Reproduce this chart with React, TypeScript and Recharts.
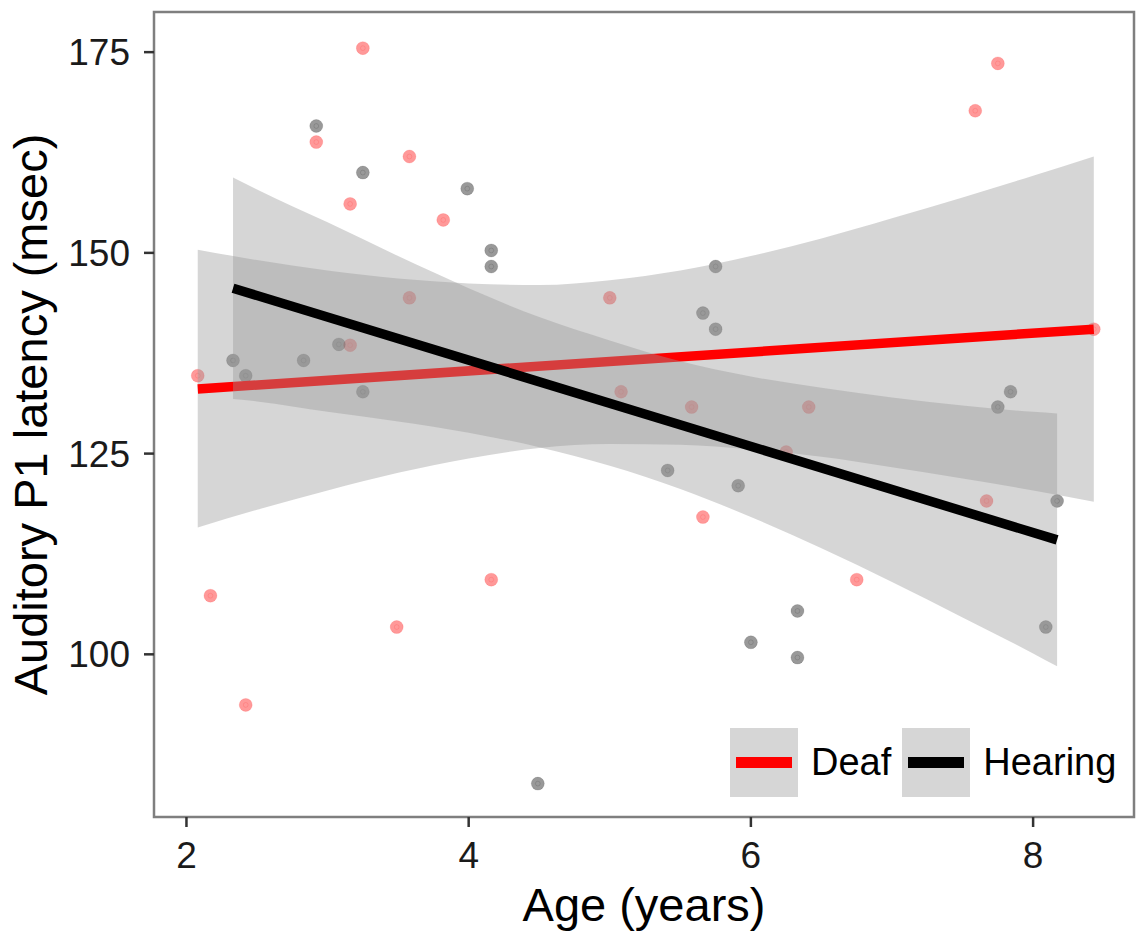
import {
  ComposedChart,
  Scatter,
  Line,
  Area,
  XAxis,
  YAxis,
  ReferenceArea,
  Label,
} from "recharts";

// Raw points
const deafAge = [2.08, 2.17, 2.42, 2.92, 3.16, 3.16, 3.25, 3.49, 3.58, 3.58, 3.82, 4.16, 5.0, 5.08, 5.58, 5.66, 6.25, 6.41, 6.75, 7.59, 7.67, 7.75, 8.43];
const deafLatency = [134.7, 107.3, 93.7, 163.8, 156.1, 138.5, 175.5, 103.4, 162.0, 144.4, 154.1, 109.3, 144.4, 132.7, 130.8, 117.1, 125.2, 130.8, 109.3, 167.7, 119.1, 173.6, 140.5];

const hearingAge = [2.33, 2.42, 2.83, 2.92, 3.08, 3.25, 3.25, 3.99, 4.16, 4.16, 4.49, 5.41, 5.66, 5.75, 5.75, 5.91, 6.0, 6.33, 6.33, 7.75, 7.84, 8.09, 8.17];
const hearingLatency = [136.6, 134.7, 136.6, 165.8, 138.6, 160.0, 132.7, 158.0, 150.3, 148.3, 83.9, 122.9, 142.5, 148.3, 140.5, 121.0, 101.5, 105.4, 99.6, 130.8, 132.7, 103.4, 119.1];

// Fitted lines (end points)
const deafFitAge = [2.08, 8.43];
const deafFitLatency = [133.05, 140.5];
const hearingFitAge = [2.33, 8.17];
const hearingFitLatency = [145.6, 114.25];

// Confidence ribbons
const deafBandAge = [2.08, 2.5, 3.0, 3.5, 4.0, 4.5, 5.0, 5.5, 6.0, 6.5, 7.0, 7.5, 8.0, 8.43];
const deafBandLow = [115.8, 118.0, 120.4, 122.6, 124.4, 125.7, 126.2, 126.1, 125.5, 124.6, 123.3, 121.9, 120.4, 119.0];
const deafBandHigh = [150.4, 149.1, 147.8, 146.8, 146.2, 146.0, 146.6, 147.8, 149.6, 151.8, 154.3, 156.9, 159.6, 162.0];

const hearingBandAge = [2.33, 2.5, 3.0, 3.5, 4.0, 4.5, 5.0, 5.5, 6.0, 6.5, 7.0, 7.5, 8.0, 8.17];
const hearingBandLow = [131.8, 131.5, 130.2, 129.0, 127.6, 125.8, 123.5, 120.6, 117.1, 113.2, 109.0, 104.6, 100.1, 98.5];
const hearingBandHigh = [159.4, 157.9, 153.8, 149.6, 145.6, 142.0, 139.1, 136.5, 134.6, 133.2, 132.0, 131.0, 130.2, 130.0];

const xTicks = [2, 4, 6, 8];
const yTicks = [100, 125, 150, 175];

const X_DOMAIN: [number, number] = [1.77, 8.715];
const Y_DOMAIN: [number, number] = [79.74, 180];
const FONT = '"Liberation Sans", Arial, Helvetica, sans-serif';
const RIBBON = "#999999";

const toPoints = (ages: number[], vals: number[]) => ages.map((age, i) => ({ age, latency: vals[i] }));
const toBand = (ages: number[], lo: number[], hi: number[]) =>
  ages.map((age, i) => ({ age, band: [lo[i], hi[i]] }));

const deafPoints = toPoints(deafAge, deafLatency);
const hearingPoints = toPoints(hearingAge, hearingLatency);
const deafFit = toPoints(deafFitAge, deafFitLatency);
const hearingFit = toPoints(hearingFitAge, hearingFitLatency);
const deafBand = toBand(deafBandAge, deafBandLow, deafBandHigh);
const hearingBand = toBand(hearingBandAge, hearingBandLow, hearingBandHigh);

const dotShape = (color: string) => (props: any) => (
  <g>
    <circle cx={props.cx} cy={props.cy} r={6.5} fill={color} fillOpacity={0.4} stroke={color} strokeOpacity={0.12} strokeWidth={1} />
    <circle cx={props.cx} cy={props.cy} r={2.4} fill="none" stroke={color} strokeOpacity={0.15} strokeWidth={0.8} />
  </g>
);

function YTitle({ viewBox }: any) {
  const cx = 30;
  const cy = viewBox.y + viewBox.height / 2;
  return (
    <text x={cx} y={cy} transform={`rotate(-90 ${cx} ${cy})`} textAnchor="middle" dy="0.355em" fontSize={47} fontFamily={FONT} fill="#000">
      Auditory P1 latency (msec)
    </text>
  );
}

function XTitle({ viewBox }: any) {
  const cx = viewBox.x + viewBox.width / 2;
  const cy = viewBox.y + 104;
  return (
    <text x={cx} y={cy} textAnchor="middle" fontSize={47} fontFamily={FONT} fill="#000">
      Age (years)
    </text>
  );
}

function LegendKey({ color, label }: { color: string; label: string }) {
  return (
    <div style={{ display: "flex", alignItems: "center" }}>
      <div style={{ width: 68, height: 69, background: "#d6d6d6", position: "relative" }}>
        <div style={{ position: "absolute", left: 6, right: 6, top: 29, height: 11, background: color }} />
      </div>
      <span style={{ fontFamily: FONT, fontSize: 38, color: "#000", marginLeft: 13, marginRight: 11, lineHeight: "69px" }}>{label}</span>
    </div>
  );
}

export default function App() {
  return (
    <div style={{ position: "absolute", left: 0, top: 0, width: 1146, height: 945, background: "#fff" }}>
      <ComposedChart width={1146} height={945} margin={{ top: 12, right: 12, bottom: 0, left: 0 }}>
        <XAxis
          type="number"
          dataKey="age"
          domain={X_DOMAIN}
          ticks={xTicks}
          allowDataOverflow
          axisLine={false}
          tickLine={{ stroke: "#333", strokeWidth: 2.5 }}
          tickSize={10}
          tickMargin={15}
          height={128}
          tick={{ fontSize: 37, fill: "#1a1a1a", fontFamily: FONT }}
        >
          <Label content={<XTitle />} />
        </XAxis>
        <YAxis
          type="number"
          domain={Y_DOMAIN}
          ticks={yTicks}
          allowDataOverflow
          axisLine={false}
          tickLine={{ stroke: "#333", strokeWidth: 2.5 }}
          tickSize={10}
          tickMargin={14}
          width={154}
          tick={{ fontSize: 37, fill: "#1a1a1a", fontFamily: FONT }}
        >
          <Label content={<YTitle />} />
        </YAxis>

        <Scatter data={deafPoints} dataKey="latency" shape={dotShape("#ff0000")} isAnimationActive={false} zIndex={10} />
        <Scatter data={hearingPoints} dataKey="latency" shape={dotShape("#000000")} isAnimationActive={false} zIndex={11} />

        <Area data={deafBand} dataKey="band" type="monotone" fill={RIBBON} fillOpacity={0.4} stroke="none" isAnimationActive={false} zIndex={20} />
        <Line data={deafFit} dataKey="latency" type="linear" stroke="#ff0000" strokeWidth={9.5} dot={false} activeDot={false} isAnimationActive={false} zIndex={21} />
        <Area data={hearingBand} dataKey="band" type="monotone" fill={RIBBON} fillOpacity={0.4} stroke="none" isAnimationActive={false} zIndex={22} />
        <Line data={hearingFit} dataKey="latency" type="linear" stroke="#000000" strokeWidth={9.5} dot={false} activeDot={false} isAnimationActive={false} zIndex={23} />

        <ReferenceArea x1={X_DOMAIN[0]} x2={X_DOMAIN[1]} y1={Y_DOMAIN[0]} y2={Y_DOMAIN[1]} fill="none" stroke="#7f7f7f" strokeWidth={2.5} zIndex={30} />
      </ComposedChart>

      <div style={{ position: "absolute", left: 730, top: 728, display: "flex" }}>
        <LegendKey color="#ff0000" label="Deaf" />
        <LegendKey color="#000000" label="Hearing" />
      </div>
    </div>
  );
}
